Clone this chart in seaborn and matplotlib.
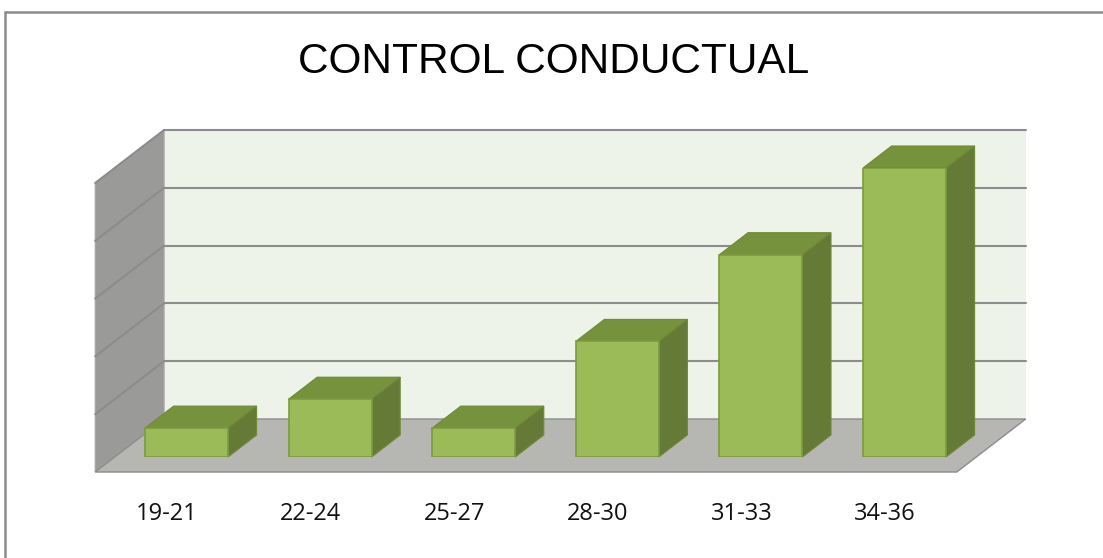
import matplotlib
matplotlib.use('Agg')
import matplotlib.pyplot as plt
from matplotlib.patches import Polygon
from matplotlib.lines import Line2D
import seaborn as sns
import pandas as pd

# datos del grafico
categories = ['19-21', '22-24', '25-27', '28-30', '31-33', '34-36']
values = [1, 2, 1, 4, 7, 10]
y_max = 10
grid_step = 2
title_text = 'CONTROL CONDUCTUAL'

# colores estilo Excel 3D
FRONT = '#9BBB59'
TOP = '#77923C'
SIDE = '#667A37'
BAR_EDGE = '#7C9A42'
BACK_WALL = '#EEF3EA'
SIDE_WALL = '#9A9B98'
FLOOR = '#B6B7B3'
GRID = '#8C8C8C'

W, H, DPI = 1103, 558, 100
# plano frontal de las barras (pixeles)
PL, PR, PB, PT = 114.7, 976.3, 457, 168
SLANT = 1.3           # dx por pixel de profundidad
D_FRONT, D_BAR, D_BACK = -15, 22, 38

sns.set_theme(style='white')
fig = plt.figure(figsize=(W / DPI, H / DPI), dpi=DPI)
ax = fig.add_axes([PL / W, 1 - PB / H, (PR - PL) / W, (PB - PT) / H])

n = len(categories)
sx = (PR - PL) / n
sy = (PB - PT) / y_max


def pt(x, y, d):
    """punto con profundidad d (pixeles) en coordenadas de datos"""
    return (x + d * SLANT / sx, y + d / sy)


df = pd.DataFrame({'cat': categories, 'val': values})
sns.barplot(data=df, x='cat', y='val', ax=ax, color=FRONT, width=0.578,
            saturation=1, edgecolor=BAR_EDGE, linewidth=1.2)
ax.set_xlim(-0.5, n - 0.5)
ax.set_ylim(0, y_max)
ax.set_axis_off()

x0, x1 = -0.5, n - 0.5

# pared trasera
ax.add_patch(Polygon([pt(x0, 0, D_BACK), pt(x1, 0, D_BACK),
                      pt(x1, y_max, D_BACK), pt(x0, y_max, D_BACK)],
                     closed=True, facecolor=BACK_WALL, edgecolor='none',
                     zorder=0.1, clip_on=False))
# pared lateral
ax.add_patch(Polygon([pt(x0, 0, D_FRONT), pt(x0, 0, D_BACK),
                      pt(x0, y_max, D_BACK), pt(x0, y_max, D_FRONT)],
                     closed=True, facecolor=SIDE_WALL, edgecolor='#A5A6A3',
                     linewidth=0.8, zorder=0.2, clip_on=False))
# piso
ax.add_patch(Polygon([pt(x0, 0, D_FRONT), pt(x1, 0, D_FRONT),
                      pt(x1, 0, D_BACK), pt(x0, 0, D_BACK)],
                     closed=True, facecolor=FLOOR, edgecolor=GRID,
                     linewidth=1.0, zorder=0.3, clip_on=False))

# lineas de division
for k in range(grid_step, y_max + 1, grid_step):
    a, b = pt(x0, k, D_BACK), pt(x1, k, D_BACK)
    ax.add_line(Line2D([a[0], b[0]], [a[1], b[1]], color=GRID, lw=1.5,
                       zorder=0.4, clip_on=False))
    c = pt(x0, k, D_FRONT)
    ax.add_line(Line2D([c[0], a[0]], [c[1], a[1]], color=GRID, lw=1.5,
                       zorder=0.4, clip_on=False))

# caras superior y lateral de cada barra
for p in ax.patches[:n]:
    bx, bw, bh = p.get_x(), p.get_width(), p.get_height()
    p.set_zorder(3)
    top = [pt(bx, bh, 0), pt(bx + bw, bh, 0), pt(bx + bw, bh, D_BAR), pt(bx, bh, D_BAR)]
    side = [pt(bx + bw, 0, 0), pt(bx + bw, 0, D_BAR), pt(bx + bw, bh, D_BAR), pt(bx + bw, bh, 0)]
    ax.add_patch(Polygon(top, closed=True, facecolor=TOP, edgecolor='#6F8A36',
                         linewidth=0.8, zorder=2, clip_on=False))
    ax.add_patch(Polygon(side, closed=True, facecolor=SIDE, edgecolor='#6F8A36',
                         linewidth=0.8, zorder=2, clip_on=False))

# etiquetas del eje x
for i, lab in enumerate(categories):
    lx, ly = pt(i, 0, D_FRONT)
    ax.text(lx, ly - 42 / sy, lab, ha='center', va='center', fontsize=17,
            family=['Open Sans', 'DejaVu Sans'], color='#111111', clip_on=False)

fig.text(553.5 / W, 1 - 62 / H, title_text, ha='center', va='center',
         fontsize=30.5, family=['Liberation Sans', 'DejaVu Sans'],
         color='black')

# borde del area del grafico
fig.add_artist(Line2D([5 / W, 1], [1 - 12 / H, 1 - 12 / H], color='#8C8C8C', lw=1.8,
                      transform=fig.transFigure))
fig.add_artist(Line2D([5 / W, 5 / W], [0, 1 - 12 / H], color='#8C8C8C', lw=1.8,
                      transform=fig.transFigure))

fig.savefig('out.png', dpi=DPI, facecolor='white')
